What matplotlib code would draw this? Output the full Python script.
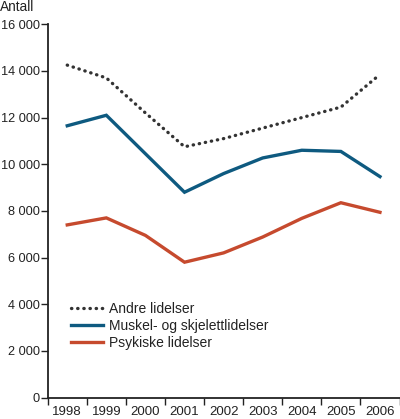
import matplotlib
matplotlib.use("Agg")
import matplotlib.pyplot as plt
from matplotlib.ticker import FuncFormatter, FixedLocator

years = ["1998", "1999", "2000", "2001", "2002", "2003", "2004", "2005", "2006"]
andre = [14250, 13700, 12200, 10750, 11100, 11550, 12000, 12450, 13850]
muskel = [11650, 12100, 10450, 8800, 9600, 10270, 10600, 10550, 9470]
psykiske = [7400, 7700, 6950, 5800, 6200, 6880, 7680, 8350, 7940]
series_names = ["Andre lidelser", "Muskel- og skjelettlidelser", "Psykiske lidelser"]
y_ticks = [0, 2000, 4000, 6000, 8000, 10000, 12000, 14000, 16000]

plt.rcParams['font.family'] = ['Liberation Sans', 'DejaVu Sans']
plt.rcParams['font.size'] = 9.5

fig = plt.figure(figsize=(4.0, 4.19), dpi=100)
ax = fig.add_axes([47.7/400, 1-397.5/419, (399.5-47.7)/400, (397.5-24.3)/419])

x = [i + 0.5 for i in range(len(years))]
ax.plot(x, andre, color="#333333", lw=2.4, linestyle=(0, (0.1, 1.75)),
        dash_capstyle='round', label=series_names[0])
ax.plot(x, muskel, color="#0e5a80", lw=2.4, label=series_names[1], solid_joinstyle='miter')
ax.plot(x, psykiske, color="#c64a2e", lw=2.4, label=series_names[2], solid_joinstyle='miter')

ax.set_xlim(0, len(years))
ax.set_ylim(0, 16000)
ax.xaxis.set_major_locator(FixedLocator(list(range(len(years) + 1))))
ax.xaxis.set_major_formatter(FuncFormatter(lambda v, p: ""))
ax.set_xticks(x, minor=True)
ax.set_xticklabels(years, minor=True)
ax.tick_params(axis='x', which='minor', length=0, pad=6, labelsize=9.5, colors="#222222")
ax.tick_params(axis='x', which='major', length=5, width=1.0, color="#222222")
ax.set_yticks(y_ticks)
ax.yaxis.set_major_formatter(FuncFormatter(lambda v, p: f"{int(v):,}".replace(",", " ")))
ax.tick_params(axis='y', length=5, width=1.0, pad=0.5, labelsize=9.2, color="#222222", labelcolor="#222222")

for s in ["top", "right"]:
    ax.spines[s].set_visible(False)
for s in ["left", "bottom"]:
    ax.spines[s].set_linewidth(1.3)
    ax.spines[s].set_color("#222222")

fig.text(0.0, 1 - 11/419, "Antall", fontsize=9.8, color="#222222", ha='left', va='baseline')

leg = ax.legend(loc='center left', bbox_to_anchor=(71/400, 1 - 326/419),
                bbox_transform=fig.transFigure, frameon=False, borderpad=0,
                borderaxespad=0, handlelength=2.3, handletextpad=0.45,
                labelspacing=0.2, fontsize=10)
for t in leg.get_texts():
    t.set_color("#222222")

fig.savefig("out.png", dpi=100)
